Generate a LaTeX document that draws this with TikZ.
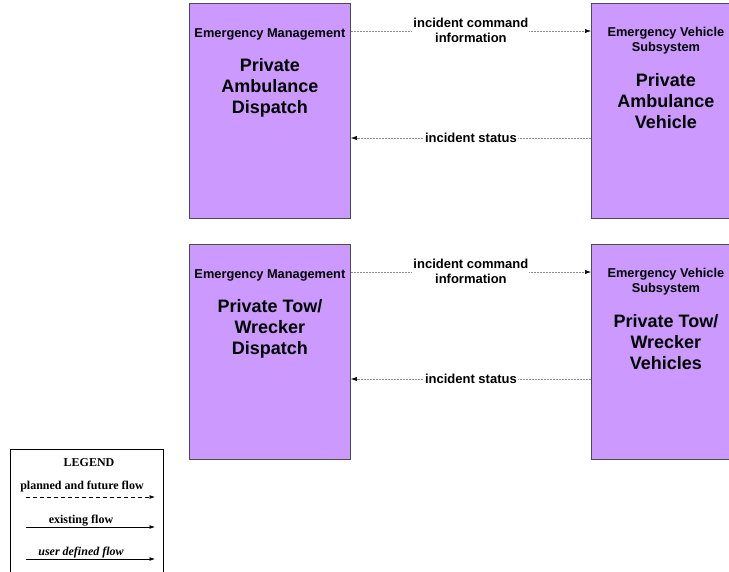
\documentclass[tikz,border=0pt]{standalone}
\usepackage{fontspec}
\setmainfont{Liberation Serif}
\newfontfamily\arialfont{Liberation Sans}
\usetikzlibrary{arrows.meta,positioning,calc}
\definecolor{sysfill}{RGB}{204,153,255}
\tikzset{
  sysbox/.style={draw=black!70, line width=0.8pt, fill=sysfill, anchor=north west, inner sep=0pt},
  hdr/.style={align=center, font=\arialfont\bfseries\fontsize{12.8}{15}\selectfont, inner sep=0pt},
  title/.style={align=center, font=\arialfont\bfseries\fontsize{18}{21}\selectfont, inner sep=0pt},
  flowlbl/.style={align=center, fill=white, inner sep=1pt, font=\arialfont\bfseries\fontsize{13}{15}\selectfont},
  flow/.style={draw=black!45, line width=0.5pt, dash pattern=on 2pt off 1pt, -{Latex[length=6pt,width=4pt,color=black]}},
  legbox/.style={draw, line width=0.9pt, anchor=north west, minimum width=153pt, minimum height=130pt, inner sep=0pt},
  legtxt/.style={font=\bfseries\fontsize{12}{14}\selectfont, inner sep=0pt},
  legflow/.style={line width=0.8pt, -{Latex[length=5.5pt,width=4pt]}}
}

\begin{document}
\begin{tikzpicture}[x=1pt, y=-1pt]
\useasboundingbox (0,0) rectangle (729,571);

% ambulance pair
\node[sysbox, minimum width=161pt, minimum height=215pt] (adisp) at (189,3) {};
\node[sysbox, minimum width=149pt, minimum height=215pt] (aveh) at (591,3) {};
\node[hdr] (adispH) at ([yshift=-31pt]adisp.north) {Emergency Management};
\node[title] (adispT) at ([yshift=-85pt]adisp.north) {Private\\Ambulance\\Dispatch};
\node[hdr] (avehH) at ([yshift=-37.5pt]aveh.north) {Emergency Vehicle\\Subsystem};
\node[title] (avehT) at ([yshift=-98.5pt]aveh.north) {Private\\Ambulance\\Vehicle};
\coordinate (acmdY) at ([yshift=-28pt]adisp.north east);
\coordinate (astat) at ([yshift=-135pt]adisp.north east);

\draw[flow] (acmdY) -- node[flowlbl, yshift=0.5pt] (acmd) {incident command\\information} (aveh.west |- acmdY);
\draw[flow] (aveh.west |- astat) -- node[flowlbl] (astatL) {incident status} (astat);

% tow/wrecker pair
\node[sysbox, minimum width=161pt, minimum height=215pt] (tdisp) at (189,244) {};
\node[sysbox, minimum width=149pt, minimum height=215pt] (tveh) at (591,244) {};
\node[hdr] (tdispH) at ([yshift=-31pt]tdisp.north) {Emergency Management};
\node[title] (tdispT) at ([yshift=-85pt]tdisp.north) {Private Tow/\\Wrecker\\Dispatch};
\node[hdr] (tvehH) at ([yshift=-37.5pt]tveh.north) {Emergency Vehicle\\Subsystem};
\node[title] (tvehT) at ([yshift=-98.5pt]tveh.north) {Private Tow/\\Wrecker\\Vehicles};
\coordinate (tcmdY) at ([yshift=-28pt]tdisp.north east);
\coordinate (tstat) at ([yshift=-135pt]tdisp.north east);

\draw[flow] (tcmdY) -- node[flowlbl, yshift=0.5pt] (tcmd) {incident command\\information} (tveh.west |- tcmdY);
\draw[flow] (tveh.west |- tstat) -- node[flowlbl] (tstatL) {incident status} (tstat);

% legend
\node[legbox] (leg) at (10,449) {};
\node[legtxt] (legT) at ([shift={(79,14)}]leg.north west) {LEGEND};
\node[legtxt] (legP) at ([shift={(72,38)}]leg.north west) {planned and future flow};
\node[legtxt] (legE) at ([shift={(71,72)}]leg.north west) {existing flow};
\node[legtxt, font=\bfseries\itshape\fontsize{12}{14}\selectfont] (legU) at ([shift={(71,104)}]leg.north west) {user defined flow};
\coordinate (lpA) at ([shift={(16,48)}]leg.north west);
\coordinate (lpB) at ([shift={(145,48)}]leg.north west);
\coordinate (leA) at ([shift={(16,78)}]leg.north west);
\coordinate (leB) at ([shift={(145,78)}]leg.north west);
\coordinate (luA) at ([shift={(16,110)}]leg.north west);
\coordinate (luB) at ([shift={(145,110)}]leg.north west);
\draw[legflow, dash pattern=on 4pt off 3pt] (lpA) -- (lpB);
\draw[legflow] (leA) -- (leB);
\draw[legflow] (luA) -- (luB);
\end{tikzpicture}
\end{document}
